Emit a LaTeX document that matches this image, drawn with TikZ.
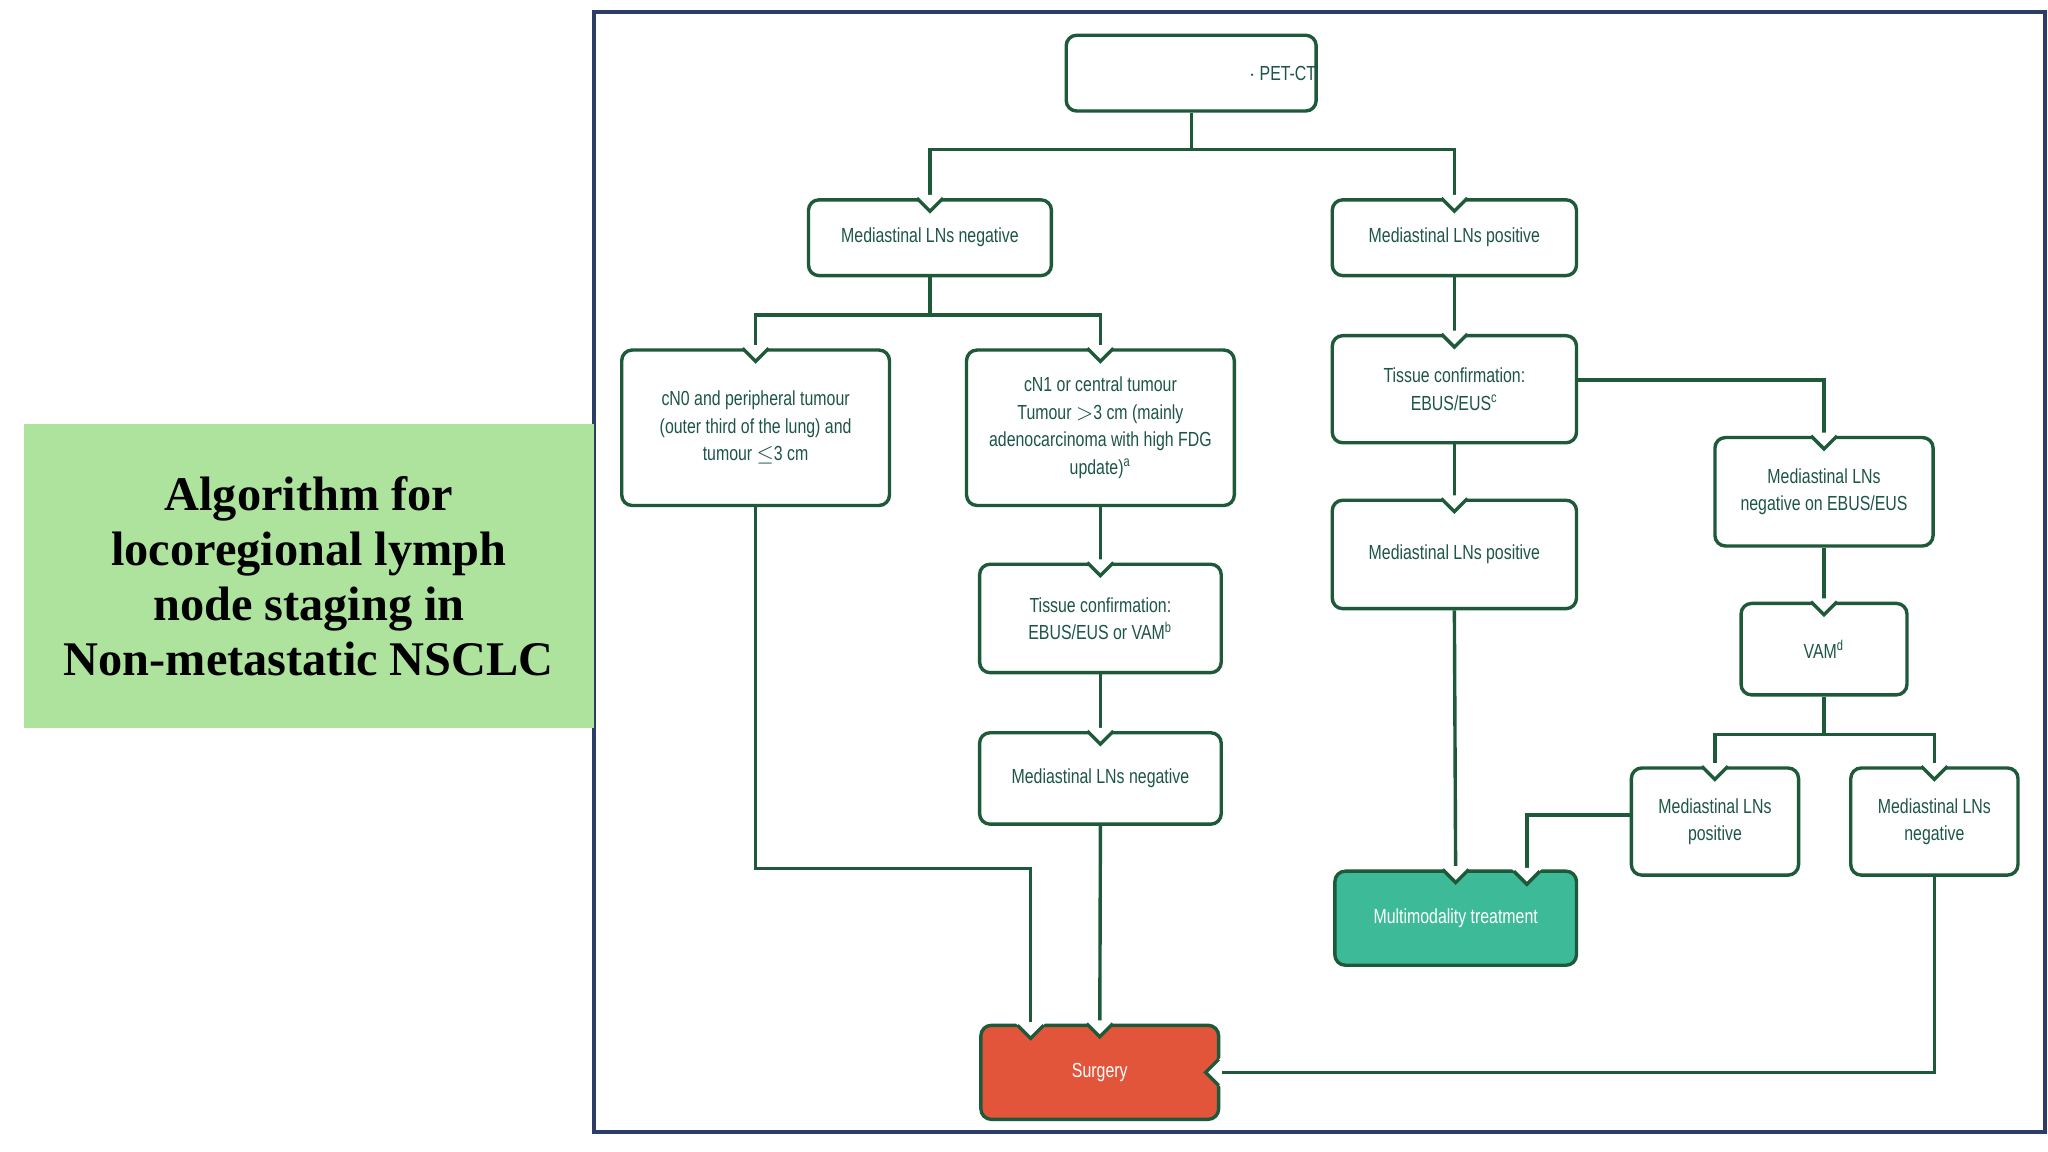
\documentclass[tikz,border=0pt]{standalone}
\usepackage{fontspec}
\setmainfont{Liberation Sans}
\newfontfamily\cond{Liberation Sans}[FakeStretch=0.78]
\newfontfamily\ttl{Liberation Serif}
\usetikzlibrary{calc,arrows.meta}
\definecolor{dg}{HTML}{1E5A3A}
\definecolor{tx}{HTML}{1D5548}
\definecolor{fr}{HTML}{2C3E66}
\definecolor{lab}{HTML}{AEE39E}
\definecolor{mm}{HTML}{3DBB98}
\definecolor{sg}{HTML}{E2553A}
\begin{document}
\begin{tikzpicture}[x=0.5pt,y=-0.5pt,
  box/.style={draw=dg,line width=1.3pt,rounded corners=4pt,fill=white,inner sep=0pt,
     text=tx,font=\cond\fontsize{7.8pt}{10.5pt}\selectfont,align=center},
  ln/.style={draw=dg,line width=1.3pt},
  arr/.style={ln,-{Triangle[length=4pt,width=5pt]}}]
\newcommand\vnotch[1]{\fill[white] ($(#1)+(-12,-2.5)$)--($(#1)+(12,-2.5)$)--($(#1)+(0,10)$)--cycle;
  \draw[ln,line join=miter] ($(#1)+(-10,0)$)--($(#1)+(0,10)$)--($(#1)+(10,0)$);}
\useasboundingbox (0,0) rectangle (1568,882);
\fill[white] (0,0) rectangle (1568,882);
\draw[fr,line width=1.5pt] (455,9) rectangle (1566,867);
\node[fill=lab,minimum width=437*0.5pt,minimum height=232*0.5pt,inner sep=0pt,align=center,
  font=\ttl\bfseries\fontsize{18.5pt}{21pt}\selectfont] (lab) at (236.5,441)
  {Algorithm for\\locoregional lymph\\node staging in\\Non-metastatic NSCLC};
% nodes
\newcommand\bx[6]{\node[box,minimum width=#4*0.5pt,minimum height=#5*0.5pt] (#1) at (#2,#3) {#6};}
\bx{pet}{912}{56}{186}{58}{\hspace*{70pt}$\cdot$ PET-CT}
\bx{mneg}{712}{182}{186}{58}{Mediastinal LNs negative}
\bx{mpos}{1113.5}{182}{187}{58}{Mediastinal LNs positive}
\bx{cn0}{578.5}{327.5}{205}{119}{cN0 and peripheral tumour\\(outer third of the lung) and\\tumour $\leq$3 cm}
\bx{cn1}{842.5}{327.5}{205}{119}{cN1 or central tumour\\Tumour $>$3 cm (mainly\\adenocarcinoma with high FDG\\update)\textsuperscript{a}}
\bx{tc1}{842.5}{473.5}{185}{83}{Tissue confirmation:\\EBUS/EUS or VAM\textsuperscript{b}}
\bx{mneg2}{842.5}{596}{185}{70}{Mediastinal LNs negative}
\node[box,fill=sg,text=white,minimum width=182*0.5pt,minimum height=72*0.5pt] (surg) at (842,821) {Surgery};
\bx{tc2}{1113.5}{298}{187}{82}{Tissue confirmation:\\EBUS/EUS\textsuperscript{c}}
\bx{mpos2}{1113.5}{424.5}{187}{83}{Mediastinal LNs positive}
\node[box,fill=mm,text=white,minimum width=185*0.5pt,minimum height=72*0.5pt] (mm) at (1114.5,703) {Multimodality treatment};
\bx{mnegE}{1396.5}{376.5}{167}{83}{Mediastinal LNs\\negative on EBUS/EUS}
\bx{vam}{1396.5}{497}{127}{70}{VAM\textsuperscript{d}}
\bx{mpos3}{1313}{629}{128}{82}{Mediastinal LNs\\positive}
\bx{mneg3}{1481}{629}{128}{82}{Mediastinal LNs\\negative}
% coordinates
\coordinate (s1) at (789,785);
\coordinate (m1) at (1169,667);
\coordinate (sr) at (933,821);
% connectors
\draw[ln] (pet.south) -- ++(0,28) coordinate (j1);
\draw[arr] (j1) -| ($(mneg.north)+(0,8)$);
\draw[arr] (j1) -| ($(mpos.north)+(0,8)$);
\draw[ln] (mneg.south) -- ++(0,29) coordinate (j2);
\draw[arr] (j2) -| ($(cn0.north)+(0,8)$);
\draw[arr] (j2) -| ($(cn1.north)+(0,8)$);
\draw[arr] (cn1.south) -- ($(tc1.north)+(0,8)$);
\draw[arr] (tc1.south) -- ($(mneg2.north)+(0,8)$);
\draw[arr] (mneg2.south) -- ($(surg.north)+(0,8)$);
\draw[ln] (cn0.south) -- (cn0.south |- 0,665) -| ($(s1)+(0,-8)$);
\draw[arr] ($(s1)+(0,-20)$) -- ($(s1)+(0,8)$);
\draw[arr] (mpos.south) -- ($(tc2.north)+(0,8)$);
\draw[arr] (tc2.south) -- ($(mpos2.north)+(0,8)$);
\draw[arr] (mpos2.south) -- ($(mm.north)+(0,8)$);
\draw[arr] (tc2.east |- 0,291) -| ($(mnegE.north)+(0,8)$);
\draw[arr] (mnegE.south) -- ($(vam.north)+(0,8)$);
\draw[ln] (vam.south) -- ++(0,29) coordinate (j3);
\draw[arr] (j3) -| ($(mpos3.north)+(0,8)$);
\draw[arr] (j3) -| ($(mneg3.north)+(0,8)$);
\draw[arr] (mpos3.west |- 0,624) -| ($(m1)+(0,8)$);
\draw[arr] (mneg3.south) |- ($(sr)+(-8,0)$);
% notches
\vnotch{mneg.north}\vnotch{mpos.north}\vnotch{cn0.north}\vnotch{cn1.north}
\vnotch{tc1.north}\vnotch{mneg2.north}\vnotch{surg.north}\vnotch{s1}
\vnotch{tc2.north}\vnotch{mpos2.north}\vnotch{mm.north}\vnotch{m1}
\vnotch{mnegE.north}\vnotch{vam.north}\vnotch{mpos3.north}\vnotch{mneg3.north}
\fill[white] ($(sr)+(2.5,-12)$)--($(sr)+(2.5,12)$)--($(sr)+(-10,0)$)--cycle;
\draw[ln,line join=miter] ($(sr)+(0,-10)$)--($(sr)+(-10,0)$)--($(sr)+(0,10)$);
\end{tikzpicture}
\end{document}
